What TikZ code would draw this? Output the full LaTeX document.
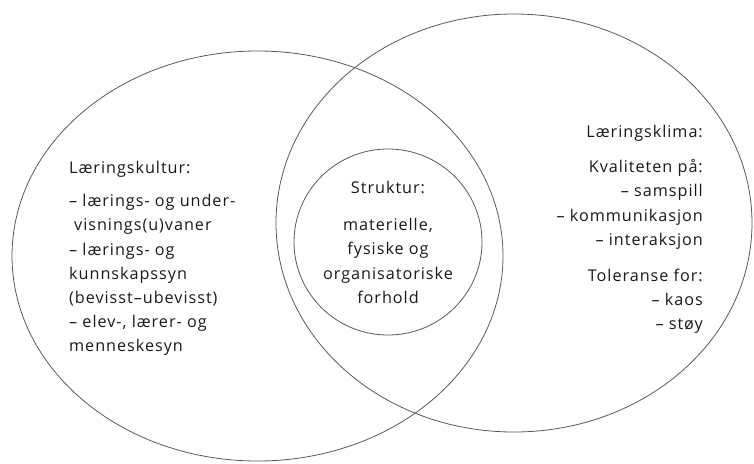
\documentclass[tikz,border=0pt]{standalone}
\usepackage{fontspec}
\setmainfont[LetterSpace=6]{Open Sans}
\usetikzlibrary{shapes.geometric}
\begin{document}
\begin{tikzpicture}[x=1pt,y=-1pt,
  ring/.style={draw=black!65, line width=0.8pt, ellipse, inner sep=0pt, outer sep=0pt},
  txt/.style={font=\fontsize{16.2}{24.2}\selectfont, inner sep=0pt, text=black!90}]
\useasboundingbox (0,0) rectangle (754,463);
\node[ring, minimum width=491pt, minimum height=410pt] (kultur) at (257.5,256) {};
\node[ring, minimum width=476pt, minimum height=418pt] (klima) at (514,223) {};
\node[ring, minimum width=188pt, minimum height=186pt] (struktur) at (388,242) {};
\node[txt, align=left, anchor=north west] (kulturtxt) at (69,161) {%
Læringskultur:\\[9pt]
– lærings- og under-\\
\hspace*{5pt}visnings(u)vaner\\
– lærings- og\\
kunnskapssyn\\
(bevisst–ubevisst)\\
– elev-, lærer- og\\
menneskesyn};
\node[txt, align=center, anchor=north] (strukturtxt) at (388,181) {%
Struktur:\\[13pt]
materielle,\\
fysiske og\\
organisatoriske\\
forhold};
\node[txt, align=right, anchor=north east] (klimatxt) at (703,125) {%
Læringsklima:\\[11pt]
Kvaliteten på:\\
– samspill\\
– kommunikasjon\\
– interaksjon\\[12pt]
Toleranse for:\\
– kaos\\
– støy};
\end{tikzpicture}
\end{document}
